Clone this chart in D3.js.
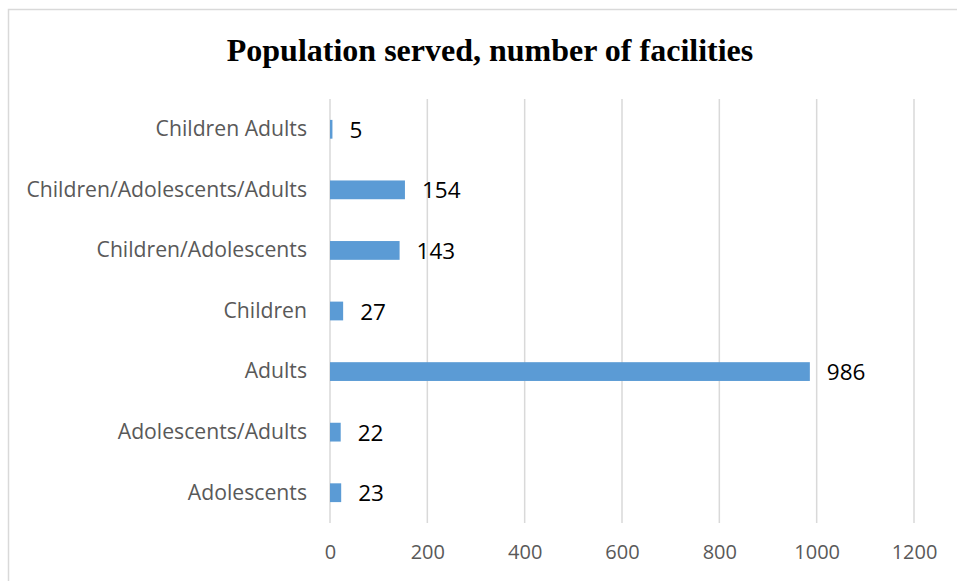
<!DOCTYPE html>
<html>
<head>
<meta charset="utf-8">
<script src="https://cdn.jsdelivr.net/npm/d3@7"></script>
<style>
  html, body { margin: 0; padding: 0; background: #fff; }
</style>
</head>
<body>
<svg id="chart"></svg>
<script>
const categories = [
  "Children Adults",
  "Children/Adolescents/Adults",
  "Children/Adolescents",
  "Children",
  "Adults",
  "Adolescents/Adults",
  "Adolescents"
];
const values = [5, 154, 143, 27, 986, 22, 23];
const xTicks = [0, 200, 400, 600, 800, 1000, 1200];
const title = "Population served, number of facilities";

const width = 957;
const height = 581;
const plotLeft = 330, plotRight = 914, plotTop = 99, plotBottom = 523;
const barColor = "#5b9bd5";
const gridColor = "#d9d9d9";
const textGrey = "#595959";

const svg = d3.select("#chart")
  .attr("width", width)
  .attr("height", height);

// chart frame (extends past the window on the right and bottom)
svg.append("rect")
  .attr("x", 8.5)
  .attr("y", 9.5)
  .attr("width", 1000)
  .attr("height", 1000)
  .attr("fill", "#fff")
  .attr("stroke", gridColor)
  .attr("stroke-width", 1.5);

svg.append("text")
  .attr("x", 490)
  .attr("y", 61)
  .attr("text-anchor", "middle")
  .attr("font-family", "'Liberation Serif', 'Times New Roman', serif")
  .attr("font-weight", "bold")
  .attr("font-size", 32)
  .attr("fill", "#000")
  .text(title);

const xScale = d3.scaleLinear()
  .domain([0, 1200])
  .range([plotLeft, plotRight]);

const yScale = d3.scaleBand()
  .domain(categories)
  .range([plotTop, plotBottom])
  .paddingInner(0.69)
  .paddingOuter(0.345);

// vertical grid lines
svg.selectAll(".x-grid-line")
  .data(xTicks)
  .enter().append("line")
  .attr("class", "x-grid-line")
  .attr("x1", d => xScale(d))
  .attr("x2", d => xScale(d))
  .attr("y1", plotTop)
  .attr("y2", plotBottom)
  .attr("stroke", gridColor)
  .attr("stroke-width", 1.5);

const xAxis = svg.append("g")
  .attr("transform", `translate(0, ${plotBottom})`)
  .call(d3.axisBottom(xScale).tickValues(xTicks).tickFormat(d3.format("d"))
    .tickSize(0).tickPadding(22));

const yAxis = svg.append("g")
  .attr("transform", `translate(${plotLeft}, 0)`)
  .call(d3.axisLeft(yScale).tickSize(0).tickPadding(23));

[xAxis, yAxis].map((axis) => {
  axis.select(".domain").remove();
  axis.selectAll(".tick text")
    .attr("fill", textGrey)
    .attr("font-family", "'Open Sans', sans-serif");
});

xAxis.selectAll(".tick text").attr("font-size", 20);
yAxis.selectAll(".tick text").attr("font-size", 21.2);

svg.selectAll(".bar")
  .data(values)
  .enter().append("rect")
  .attr("class", "bar")
  .attr("x", xScale(0))
  .attr("y", (d, i) => yScale(categories[i]))
  .attr("width", d => xScale(d) - xScale(0))
  .attr("height", yScale.bandwidth())
  .attr("fill", barColor);

svg.selectAll(".value-label")
  .data(values)
  .enter().append("text")
  .attr("class", "value-label")
  .attr("x", d => xScale(d) + 17)
  .attr("y", (d, i) => yScale(categories[i]) + yScale.bandwidth() / 2)
  .attr("dy", "0.38em")
  .attr("font-family", "'Open Sans', sans-serif")
  .attr("font-size", 22.5)
  .attr("fill", "#000")
  .text(d => d);
</script>
</body>
</html>
